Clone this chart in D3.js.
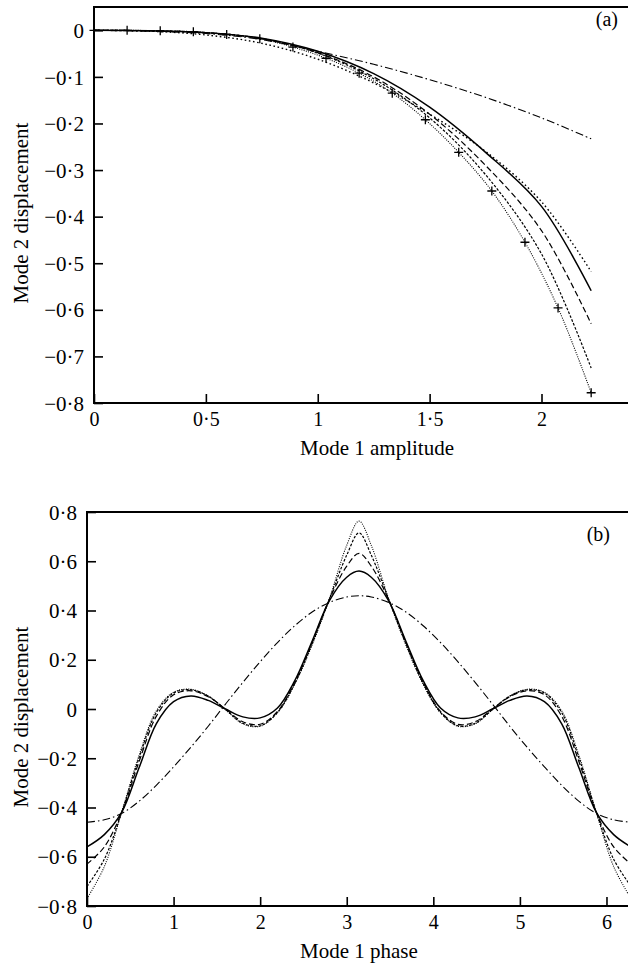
<!DOCTYPE html>
<html>
<head>
<meta charset="utf-8">
<script src="https://cdn.jsdelivr.net/npm/d3@7/dist/d3.min.js"></script>
<style>
  body { margin: 0; background: #fff; }
  svg { display: block; }
  text { font-family: "Liberation Serif", "Times New Roman", serif; fill: #000; }
</style>
</head>
<body>
<div id="chart"></div>
<script>
// ---- panel (a): mode 2 displacement vs mode 1 amplitude ----
const ampA       = [0, 0.25, 0.5, 0.75, 1.0, 1.25, 1.5, 1.75, 2.0, 2.222];
const dashDotA   = [0, -0.002, -0.007, -0.02, -0.045, -0.073, -0.106, -0.144, -0.188, -0.233];
const solidA     = [0, -0.001, -0.005, -0.017, -0.045, -0.093, -0.165, -0.262, -0.378, -0.559];
const sparseDotA = [0, -0.002, -0.01, -0.028, -0.062, -0.113, -0.18, -0.26, -0.368, -0.518];
const longDashA  = [0, -0.001, -0.005, -0.018, -0.048, -0.1, -0.18, -0.29, -0.43, -0.63];
const denseDashA = [0, -0.001, -0.005, -0.018, -0.049, -0.104, -0.188, -0.31, -0.48, -0.725];
const markAmpA   = [0, 0.148, 0.296, 0.444, 0.593, 0.741, 0.889, 1.037, 1.185, 1.333, 1.481, 1.63, 1.778, 1.926, 2.074, 2.222];
const markValA   = [0, 0, -0.001, -0.003, -0.009, -0.018, -0.036, -0.06, -0.092, -0.135, -0.192, -0.262, -0.345, -0.455, -0.596, -0.778];

const xTicksA = [0, 0.5, 1, 1.5, 2];
const xTickLabelsA = ["0", "0·5", "1", "1·5", "2"];
const yTicksA = [0, -0.1, -0.2, -0.3, -0.4, -0.5, -0.6, -0.7, -0.8];
const yTickLabelsA = ["0", "−0·1", "−0·2", "−0·3", "−0·4", "−0·5", "−0·6", "−0·7", "−0·8"];

// ---- panel (b): mode 2 displacement vs mode 1 phase ----
const phaseB = [0, 0.2, 0.4, 0.6, 0.8, 1.0, 1.2, 1.4, 1.6, 1.8, 2.0, 2.2, 2.4, 2.6, 2.8, 3.0, 3.142,
                3.283, 3.483, 3.683, 3.883, 4.083, 4.283, 4.483, 4.683, 4.883, 5.083, 5.283, 5.483, 5.683, 5.883, 6.083, 6.283];
const dashDotB = [-0.46, -0.45, -0.424, -0.375, -0.31, -0.235, -0.155, -0.07, 0.02, 0.108, 0.192, 0.27, 0.338, 0.394, 0.433, 0.455, 0.46,
                  0.455, 0.433, 0.394, 0.338, 0.27, 0.192, 0.108, 0.02, -0.07, -0.155, -0.235, -0.31, -0.375, -0.424, -0.45, -0.46];
const solidB = [-0.56, -0.51, -0.42, -0.24, -0.06, 0.03, 0.053, 0.035, 0.0, -0.032, -0.036, 0.004, 0.115, 0.275, 0.44, 0.535, 0.56,
                0.535, 0.44, 0.275, 0.115, 0.004, -0.036, -0.032, 0.0, 0.035, 0.053, 0.03, -0.06, -0.24, -0.42, -0.51, -0.56];
const longDashB = [-0.63, -0.56, -0.42, -0.215, -0.03, 0.058, 0.074, 0.05, 0.0, -0.052, -0.062, -0.01, 0.108, 0.27, 0.445, 0.58, 0.632,
                   0.58, 0.445, 0.27, 0.108, -0.01, -0.062, -0.052, 0.0, 0.05, 0.074, 0.058, -0.03, -0.215, -0.42, -0.56, -0.63];
const denseDashB = [-0.72, -0.61, -0.42, -0.2, -0.015, 0.065, 0.078, 0.052, -0.002, -0.058, -0.068, -0.014, 0.104, 0.265, 0.447, 0.625, 0.715,
                    0.625, 0.447, 0.265, 0.104, -0.014, -0.068, -0.058, -0.002, 0.052, 0.078, 0.065, -0.015, -0.2, -0.42, -0.61, -0.72];
const dottedB = [-0.77, -0.64, -0.42, -0.19, -0.008, 0.068, 0.08, 0.053, -0.003, -0.06, -0.07, -0.015, 0.1, 0.26, 0.448, 0.665, 0.763,
                 0.665, 0.448, 0.26, 0.1, -0.015, -0.07, -0.06, -0.003, 0.053, 0.08, 0.068, -0.008, -0.19, -0.42, -0.64, -0.77];

const xTicksB = [0, 1, 2, 3, 4, 5, 6];
const xTickLabelsB = ["0", "1", "2", "3", "4", "5", "6"];
const yTicksB = [0.8, 0.6, 0.4, 0.2, 0, -0.2, -0.4, -0.6, -0.8];
const yTickLabelsB = ["0·8", "0·6", "0·4", "0·2", "0", "−0·2", "−0·4", "−0·6", "−0·8"];

// line styles
const STYLE = {
    dashDot:   { dash: "8,3,1.5,3", width: 1.1 },
    solid:     { dash: null,        width: 1.5 },
    sparseDot: { dash: "1.6,2.6",   width: 1.4 },
    longDash:  { dash: "6,3",       width: 1.2 },
    denseDash: { dash: "2.6,1.6",   width: 1.2 },
    dotted:    { dash: "1,1.3",     width: 1.1 }
};

const W = 628, H = 963;
const svg = d3.select('#chart').append('svg').attr('width', W).attr('height', H);

function drawPanel(cfg) {
    const x = d3.scaleLinear().domain(cfg.xDomain).range([cfg.left, cfg.right]);
    const y = d3.scaleLinear().domain(cfg.yDomain).range([cfg.bottom, cfg.top]);
    const g = svg.append('g');

    const line = d3.line()
        .x(d => x(d[0]))
        .y(d => y(d[1]))
        .curve(d3.curveCatmullRom.alpha(0.5));

    cfg.series.forEach(s => {
        const st = STYLE[s.style];
        g.append('path')
            .attr('d', line(s.xs.map((v, i) => [v, s.ys[i]])))
            .attr('fill', 'none')
            .attr('stroke', '#000')
            .attr('stroke-width', st.width)
            .attr('stroke-dasharray', st.dash);
    });

    if (cfg.markers) {
        const m = cfg.markers;
        g.selectAll('path.mark')
            .data(m.xs.map((v, i) => [v, m.ys[i]]))
            .join('path')
            .attr('class', 'mark')
            .attr('d', d => `M${x(d[0]) - 4.5},${y(d[1])}h9M${x(d[0])},${y(d[1]) - 4.5}v9`)
            .attr('stroke', '#000')
            .attr('stroke-width', 1.3);
    }

    // axes with inward ticks
    const xAxis = g.append('g')
        .attr('transform', `translate(0,${cfg.bottom})`)
        .call(d3.axisBottom(x)
            .tickValues(cfg.xTicks)
            .tickFormat((d, i) => cfg.xLabels[i])
            .tickSize(-9)
            .tickSizeOuter(0)
            .tickPadding(9));
    const yAxis = g.append('g')
        .attr('transform', `translate(${cfg.left},0)`)
        .call(d3.axisLeft(y)
            .tickValues(cfg.yTicks)
            .tickFormat((d, i) => cfg.yLabels[i])
            .tickSize(-9)
            .tickSizeOuter(0)
            .tickPadding(10));

    [xAxis, yAxis].forEach(a => {
        a.select('.domain').remove();
        a.selectAll('line').attr('stroke', '#000').attr('stroke-width', 1.6);
        a.selectAll('text').attr('font-size', 20).attr('fill', '#000')
            .style('font-family', '"Liberation Serif", serif');
    });
    xAxis.selectAll('text').attr('dy', '0.71em');
    yAxis.selectAll('text').attr('font-size', 21).attr('dy', '0.34em');

    // frame: left, bottom, top
    g.append('path')
        .attr('d', `M${cfg.right + 4},${cfg.top}H${cfg.left}V${cfg.bottom}H${cfg.right + 4}`)
        .attr('fill', 'none')
        .attr('stroke', '#000')
        .attr('stroke-width', 2);

    g.append('text')
        .attr('x', x(cfg.xTitleAt))
        .attr('y', cfg.bottom + 52)
        .attr('text-anchor', 'middle')
        .attr('font-size', 21)
        .text(cfg.xTitle);

    g.append('text')
        .attr('transform', `translate(28,${(cfg.top + cfg.bottom) / 2 + 8}) rotate(-90)`)
        .attr('text-anchor', 'middle')
        .attr('font-size', 21)
        .text('Mode 2 displacement');

    g.append('text')
        .attr('x', cfg.tagX)
        .attr('y', cfg.tagY)
        .attr('text-anchor', 'end')
        .attr('font-size', 20)
        .text(cfg.tag);
}

drawPanel({
    left: 94, right: 631, top: 7, bottom: 403,
    xDomain: [0, 2.4], yDomain: [-0.8, 0.05],
    xTicks: xTicksA, xLabels: xTickLabelsA,
    yTicks: yTicksA, yLabels: yTickLabelsA,
    xTitle: 'Mode 1 amplitude', xTitleAt: 1.265,
    tag: '(a)', tagX: 618, tagY: 26,
    series: [
        { xs: ampA, ys: dashDotA, style: 'dashDot' },
        { xs: ampA, ys: solidA, style: 'solid' },
        { xs: ampA, ys: sparseDotA, style: 'sparseDot' },
        { xs: ampA, ys: longDashA, style: 'longDash' },
        { xs: ampA, ys: denseDashA, style: 'denseDash' },
        { xs: markAmpA, ys: markValA, style: 'dotted' }
    ],
    markers: { xs: markAmpA, ys: markValA }
});

drawPanel({
    left: 87, right: 631, top: 512, bottom: 906,
    xDomain: [0, 2 * Math.PI], yDomain: [-0.8, 0.8],
    xTicks: xTicksB, xLabels: xTickLabelsB,
    yTicks: yTicksB, yLabels: yTickLabelsB,
    xTitle: 'Mode 1 phase', xTitleAt: 3.14,
    tag: '(b)', tagX: 610, tagY: 541,
    series: [
        { xs: phaseB, ys: dashDotB, style: 'dashDot' },
        { xs: phaseB, ys: solidB, style: 'solid' },
        { xs: phaseB, ys: longDashB, style: 'longDash' },
        { xs: phaseB, ys: denseDashB, style: 'denseDash' },
        { xs: phaseB, ys: dottedB, style: 'dotted' }
    ]
});
</script>
</body>
</html>
